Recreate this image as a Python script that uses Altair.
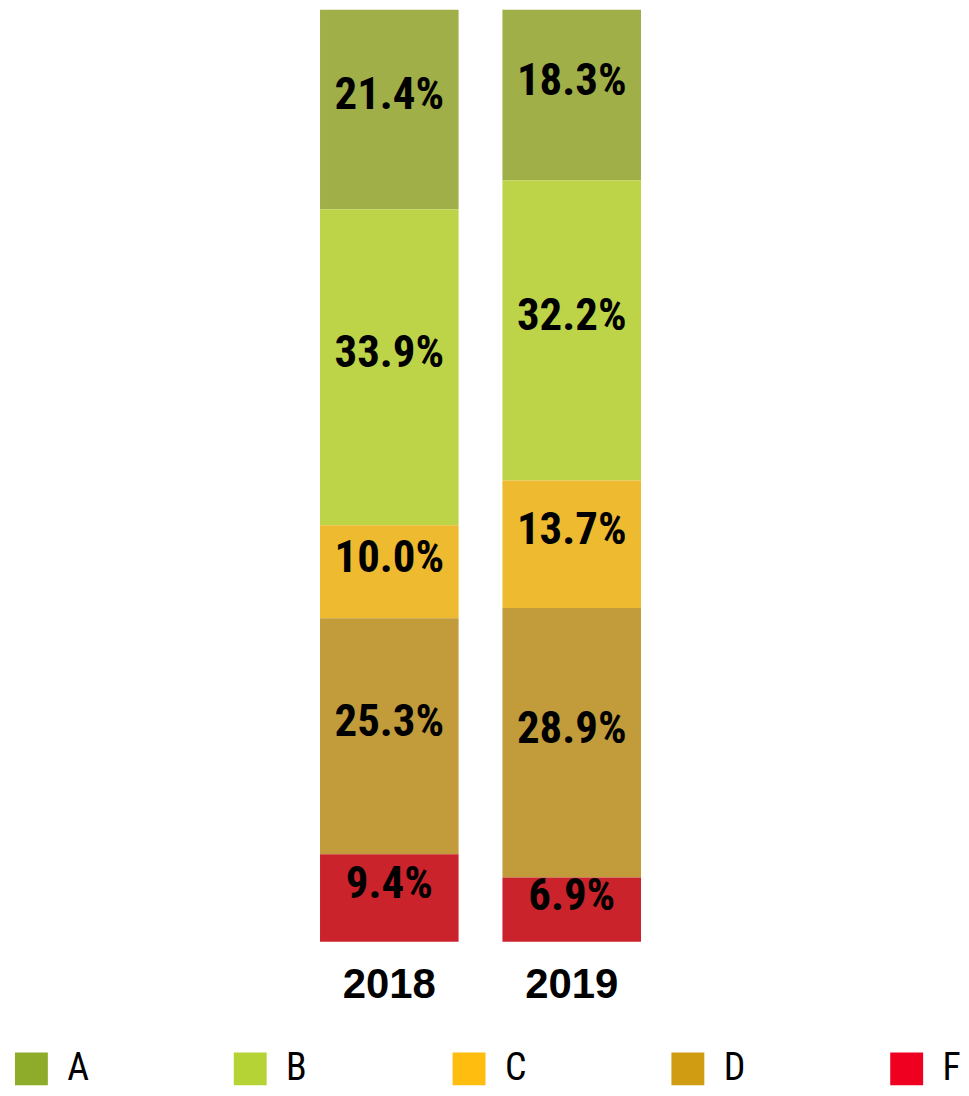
import altair as alt
import pandas as pd

years = ["2018", "2019"]
grades = ["A", "B", "C", "D", "F"]
values_2018 = [21.4, 33.9, 10.0, 25.3, 9.4]
values_2019 = [18.3, 32.2, 13.7, 28.9, 6.9]
bar_colors = ["#A0AF48", "#BDD448", "#EEBA30", "#C29B3B", "#CB232B"]
legend_colors = ["#8EAC2A", "#B5D334", "#FFBD10", "#CF9C12", "#EF0020"]

rows = []
for yr, vals in zip(years, [values_2018, values_2019]):
    for i, (g, v) in enumerate(zip(grades, vals)):
        rows.append({"year": yr, "grade": g, "value": v, "rank": i, "label": f"{v:.1f}%"})
df = pd.DataFrame(rows)

NARROW = "Roboto Condensed, Liberation Sans Narrow, Roboto"

base = alt.Chart(df).transform_stack(
    stack="value", groupby=["year"], as_=["y0", "y1"],
    sort=[alt.SortField("rank", order="descending")]
).transform_calculate(mid="(datum.y0 + datum.y1) / 2")

x = alt.X(
    "year:N",
    scale=alt.Scale(range=[313, 635], paddingInner=0.2404, paddingOuter=0),
    axis=alt.Axis(title=None, labelAngle=0, ticks=False, domain=False,
                  labelFont="Liberation Sans", labelFontWeight="bold",
                  labelFontSize=42, labelColor="black", labelPadding=23),
)
yscale = alt.Scale(domain=[0, 100], nice=False, zero=True)

bars = base.mark_bar().encode(
    x=x,
    y=alt.Y("y0:Q", scale=yscale, axis=None),
    y2="y1:Q",
    color=alt.Color("grade:N", scale=alt.Scale(domain=grades, range=bar_colors), legend=None),
)
text = base.mark_text(
    font=NARROW, fontWeight="bold",
    fontSize=45, color="black", dy=-14, baseline="middle",
).encode(
    x=alt.X("year:N"),
    y=alt.Y("mid:Q", scale=yscale),
    text="label:N",
)
top = alt.layer(bars, text).properties(width=946, height=935)

leg_df = pd.DataFrame({"grade": grades, "color": legend_colors})
lx = alt.X("grade:N", scale=alt.Scale(type="point", padding=0.107, domain=grades), axis=None)
squares = alt.Chart(leg_df).mark_square(size=1089, opacity=1).encode(
    x=lx, color=alt.Color("color:N", scale=None)
)
letters = alt.Chart(leg_df).mark_text(
    align="left", dx=36, font=NARROW,
    fontSize=38, baseline="middle", color="black",
).encode(x=lx, text="grade:N")
legend = alt.layer(squares, letters).properties(width=925, height=33)

chart = alt.vconcat(top, legend, spacing=44).properties(padding=0).configure_view(strokeWidth=0)

chart.save("out.html", embed_options={"renderer": "svg", "actions": False})
